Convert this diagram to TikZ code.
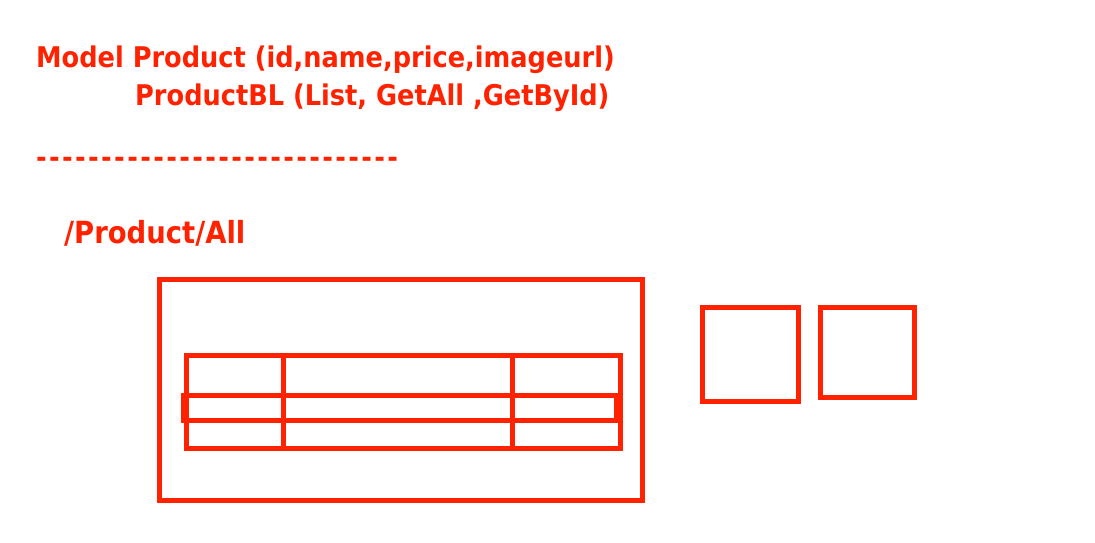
\documentclass[tikz,border=0pt]{standalone}
\usepackage{fontspec}
\setmainfont{DejaVu Sans Condensed}

\definecolor{pen}{RGB}{255,34,0}

\begin{document}
\begin{tikzpicture}[x=1pt, y=-1pt,
    txt/.style={anchor=base west, inner sep=0pt, text=pen, font=\fontsize{28.5}{34}\selectfont\bfseries},
    box/.style={draw=pen, line width=5pt}]
        \useasboundingbox (0, 0) rectangle (1095, 543);

        \node[txt] (model) at (36, 67) { Model Product (id,name,price,imageurl) };
        \node[txt] (bl) at (135, 105) { ProductBL (List, GetAll ,GetById) };
        \node[txt] (sep) at (36, 167) { \foreach \i in {1,...,28}{-\kern2.35pt} };
        \node[txt, font=\fontsize{30.5}{36}\selectfont\bfseries] (route) at (64, 243) { /Product/All };

        % page
        \draw[box] (159, 279) rectangle (642, 500);

        % table
        \draw[box] (186, 355) rectangle (620, 448);
        \draw[box] (183, 395) rectangle (616, 420);
        \draw[box] (283, 355) -- (283, 448);
        \draw[box] (512, 355) -- (512, 448);

        % squares
        \draw[box] (702, 307) rectangle (798, 401);
        \draw[box] (820, 307) rectangle (914, 397);
    \end{tikzpicture}
\end{document}
